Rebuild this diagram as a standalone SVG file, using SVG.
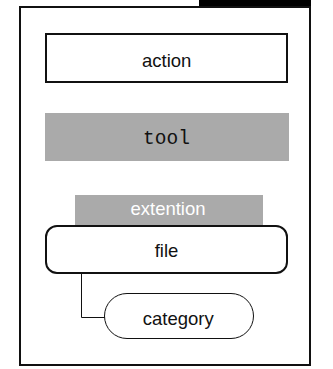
<svg xmlns="http://www.w3.org/2000/svg" width="333" height="369" viewBox="0 0 333 369">
<style>
.t{font-family:"Liberation Sans",Arial,sans-serif;font-size:18.5px;text-anchor:middle;fill:#111}
.m{font-family:"Liberation Mono","DejaVu Sans Mono",monospace;font-size:19.5px;text-anchor:middle;fill:#111}
.box{fill:#fff;stroke:#111;stroke-width:2}
.gray{fill:#aaaaaa}
</style>
<rect width="333" height="369" fill="#fff"/>
<g id="frame">
<rect x="199" y="0" width="112" height="7" fill="#000"/>
<rect x="20" y="7" width="290" height="358" fill="#fff" stroke="#111" stroke-width="2"/>
</g>
<g id="action">
<rect class="box" x="46" y="34" width="241" height="48"/>
<text class="t" x="166.7" y="67">action</text>
</g>
<g id="tool">
<rect class="gray" x="45" y="113" width="244" height="48"/>
<text class="m" x="166.5" y="144">tool</text>
</g>
<g id="extention">
<rect class="gray" x="75" y="195" width="188" height="32"/>
<text class="t" x="168" y="215" style="fill:#fff">extention</text>
</g>
<g id="connectors">
<path d="M81.5 273 V317.5 H105" fill="none" stroke="#111" stroke-width="1"/>
</g>
<g id="file">
<rect class="box" x="46" y="226" width="241" height="47" rx="11"/>
<text class="t" x="166.5" y="256.5">file</text>
</g>
<g id="category">
<rect x="104.5" y="293.5" width="149" height="45" rx="22.5" fill="#fff" stroke="#111" stroke-width="1"/>
<text class="t" x="178.3" y="325">category</text>
</g>
</svg>
